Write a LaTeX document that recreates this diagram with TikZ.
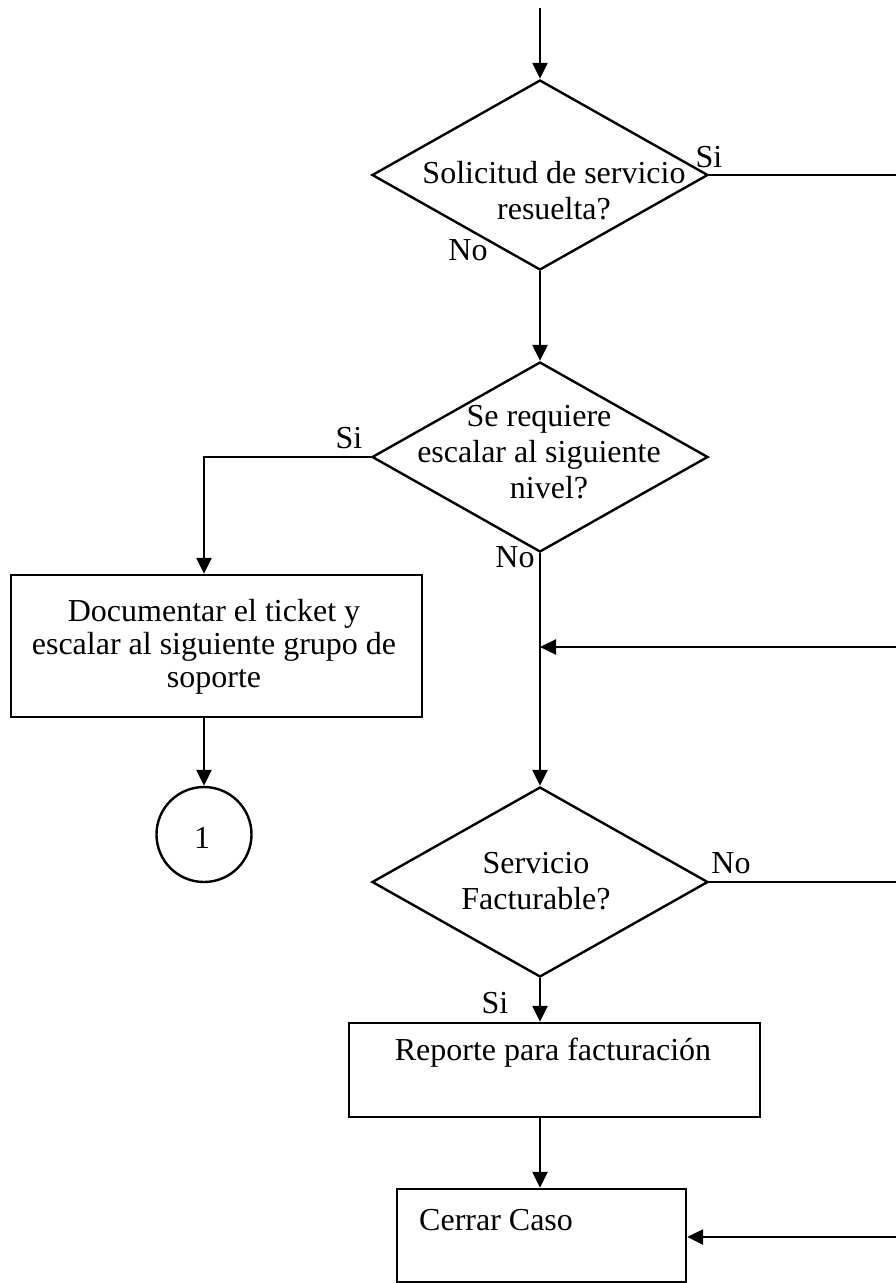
\documentclass[tikz,border=0pt]{standalone}
\usepackage{fontspec}
\setmainfont{Liberation Serif}
\usetikzlibrary{shapes.geometric,arrows.meta}

\tikzset{
  ln/.style={line width=2.4pt},
  arr/.style={ln, -{Triangle[length=16pt,width=15pt]}},
  dia/.style={draw, ln, diamond, inner sep=0pt, minimum width=336pt, minimum height=190pt},
  box/.style={draw, ln, rectangle, inner sep=0pt},
  txt/.style={inner sep=0pt, align=center, font=\fontsize{32pt}{36pt}\selectfont},
  boxtxt/.style={txt, font=\fontsize{32pt}{33pt}\selectfont},
  lbl/.style={inner sep=0pt, font=\fontsize{32pt}{36pt}\selectfont}
}

\begin{document}
\begin{tikzpicture}[x=1pt,y=-1pt]
  \useasboundingbox (0,0) rectangle (896,1283);

  % decisions
  \node[dia] (d1) at (540,175) {};
  \node[txt] (d1t) at (554,191) {Solicitud de servicio\\resuelta?};
  \node[dia] (d2) at (540,457) {};
  \node[txt] (d2t) at (539,452) {Se requiere\\escalar al siguiente\\\hspace*{20pt}nivel?};
  \node[dia] (d3) at (540,882) {};
  \node[txt] (d3t) at (536,881) {Servicio\\Facturable?};

  % process boxes
  \node[box, minimum width=411pt, minimum height=142pt] (doc) at (216.5,646) {};
  \node[boxtxt] (doct) at (214,647) {Documentar el ticket y\\escalar al siguiente grupo de\\soporte};
  \node[box, minimum width=411pt, minimum height=94pt] (rep) at (554.5,1070) {};
  \node[txt] (rept) at (553,1053) {Reporte para facturación};
  \node[box, minimum width=289pt, minimum height=93pt] (cer) at (541.5,1235.5) {};
  \node[txt, anchor=west] (cert) at (419,1220) {Cerrar Caso};

  % connector circle
  \node[draw, ln, circle, minimum size=95pt, inner sep=0pt] (circ) at (204,834.5) {};
  \node[lbl] (circt) at (202,838) {1};

  % free ends
  \coordinate (start) at (540,8);
  \coordinate (rim) at (896,0);
  \coordinate (in1) at (896,647);
  \coordinate (j1) at (540,647);
  \coordinate (in2) at (896,1237);

  % connectors
  \draw[arr] (start) -- (d1.north);
  \draw[arr] (d1.south) -- (d2.north);
  \draw[ln] (d1.east) -- (d1.east -| rim);
  \draw[arr] (d2.west) -| (doc.north -| circ);
  \draw[arr] (doc.south -| circ) -- (circ.north);
  \draw[arr] (d2.south) -- (d3.north);
  \draw[arr] (in1) -- (j1);
  \draw[ln] (d3.east) -- (d3.east -| rim);
  \draw[arr] (d3.south) -- (d3.south |- rep.north);
  \draw[arr] (rep.south -| d3.south) -- (cer.north -| d3.south);
  \draw[arr] (in2) -- (in2 -| cer.east);

  % branch labels
  \node[lbl] (s1) at (709,157) {Si};
  \node[lbl] (n1) at (468,250) {No};
  \node[lbl] (s2) at (349,438) {Si};
  \node[lbl] (n2) at (515,557) {No};
  \node[lbl] (n3) at (731,863) {No};
  \node[lbl] (s3) at (495,1003) {Si};
\end{tikzpicture}
\end{document}
